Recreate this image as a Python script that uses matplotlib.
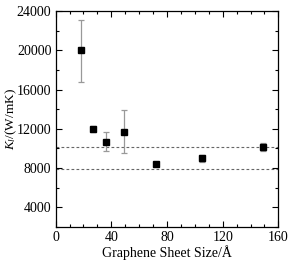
import matplotlib
matplotlib.use("Agg")
import matplotlib.pyplot as plt
from matplotlib.ticker import MultipleLocator

plt.rcParams['font.family'] = ['Liberation Serif', 'DejaVu Serif']
plt.rcParams['mathtext.fontset'] = 'custom'
plt.rcParams['mathtext.it'] = 'Liberation Serif:italic'
plt.rcParams['mathtext.rm'] = 'Liberation Serif'

# data
sheet_size = [18, 27, 36.3, 49.4, 72.4, 105.4, 148.8]
kappa = [20000, 12000, 10670, 11700, 8400, 9000, 10150]
err_low = [3200, 300, 950, 2150, 150, 350, 450]
err_high = [3100, 300, 1000, 2200, 150, 350, 400]
ref_lines = [10100, 7950]

fig = plt.figure(figsize=(2.99, 2.63), dpi=100)
ax = fig.add_axes([0.186, 0.137, 0.745, 0.821])

for y in ref_lines:
    ax.axhline(y, color='#666666', ls=(0, (2.5, 2)), lw=0.8, zorder=1)

ax.errorbar(sheet_size, kappa, yerr=[err_low, err_high], fmt='s', color='black',
            ms=4.5, ecolor='#999999', elinewidth=0.9, capsize=2.5, capthick=0.9, zorder=3)

ax.set_xlim(0, 160)
ax.set_ylim(2000, 24000)
ax.xaxis.set_major_locator(MultipleLocator(40))
ax.xaxis.set_minor_locator(MultipleLocator(10))
ax.yaxis.set_major_locator(MultipleLocator(4000))
ax.yaxis.set_minor_locator(MultipleLocator(2000))
ax.set_yticks([4000, 8000, 12000, 16000, 20000, 24000])
ax.tick_params(which='both', direction='in', top=True, right=True, labelsize=10, pad=3)
ax.tick_params(which='major', length=4, width=0.8)
ax.tick_params(which='minor', length=2, width=0.8)
for s in ax.spines.values():
    s.set_linewidth(0.9)

ax.set_xlabel('Graphene Sheet Size/Å', fontsize=10, labelpad=1)
ax.set_ylabel(r'$K_l$/(W/mK)', fontsize=9.5, labelpad=0)
ax.yaxis.set_label_coords(-0.165, 0.5)

fig.savefig('out.png', dpi=100)
